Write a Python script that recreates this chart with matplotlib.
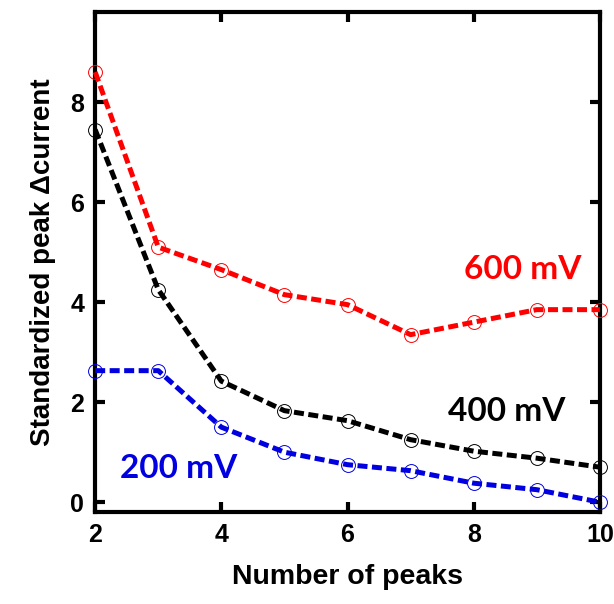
import matplotlib
matplotlib.use('Agg')
import matplotlib.pyplot as plt

# number of peaks
peaks = [2, 3, 4, 5, 6, 7, 8, 9, 10]

# standardized peak delta current
cur_600 = [8.60, 5.10, 4.65, 4.15, 3.95, 3.35, 3.60, 3.85, 3.85]
cur_400 = [7.45, 4.25, 2.42, 1.83, 1.63, 1.25, 1.02, 0.88, 0.70]
cur_200 = [2.63, 2.63, 1.50, 1.00, 0.75, 0.63, 0.38, 0.25, 0.00]

labels = ['600 mV', '400 mV', '200 mV']
colors = ['#ff0000', '#000000', '#0000e0']

xticks = [2, 4, 6, 8, 10]
yticks = [0, 2, 4, 6, 8]

plt.rcParams['font.family'] = ['Liberation Sans', 'DejaVu Sans']

fig = plt.figure(figsize=(6.14, 6.04), dpi=100, facecolor='white')
ax = fig.add_axes([0.155, 0.152, 0.822, 0.828])

for ys, c in zip([cur_600, cur_400, cur_200], colors):
	ax.plot(peaks, ys, color=c, lw=3.6, dashes=(2.0, 0.9),
		marker='o', ms=10, mfc='none', mec=c, mew=0.7, clip_on=False, zorder=3)

# series labels
ax.text(8.78, 4.65, labels[0], color=colors[0], fontsize=24, fontweight='bold',
	family='Lato', ha='center', va='center')
ax.text(8.52, 1.82, labels[1], color=colors[1], fontsize=24, fontweight='bold',
	family='Lato', ha='center', va='center')
ax.text(3.32, 0.68, labels[2], color=colors[2], fontsize=24, fontweight='bold',
	family='Lato', ha='center', va='center')

ax.set_xlim(2, 10)
ax.set_ylim(-0.2, 9.8)
ax.set_xticks(xticks)
ax.set_yticks(yticks)

for s in ax.spines.values():
	s.set_linewidth(3)
ax.tick_params(direction='in', length=7, width=3, top=True, right=True,
	labelsize=18, pad=8)
for lab in ax.get_xticklabels() + ax.get_yticklabels():
	lab.set_fontweight('bold')

ax.set_xlabel('Number of peaks', fontsize=20.5, fontweight='bold', labelpad=12)
ax.set_ylabel('Standardized peak \u0394current', fontsize=20, fontweight='bold', labelpad=10)

fig.savefig('out.png', dpi=100)
